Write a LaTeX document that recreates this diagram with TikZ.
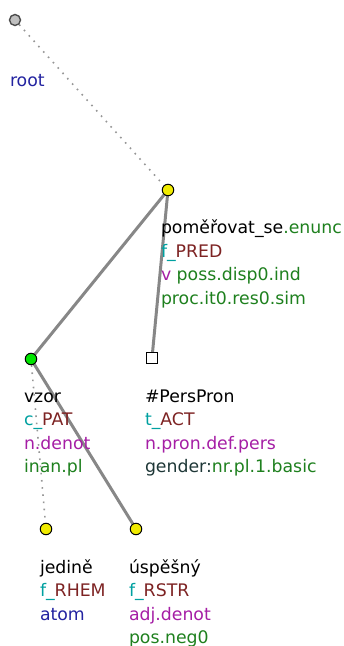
\documentclass[tikz,border=0pt]{standalone}
\usepackage{fontspec}
\setmainfont{DejaVu Sans}
\usetikzlibrary{backgrounds}
\definecolor{cteal}{RGB}{0,160,160}
\definecolor{cbrown}{RGB}{125,35,35}
\definecolor{cpurple}{RGB}{165,30,165}
\definecolor{cgreen}{RGB}{30,128,30}
\definecolor{cblue}{RGB}{35,35,160}
\definecolor{cslate}{RGB}{30,55,55}
\definecolor{cedge}{RGB}{135,135,135}
\definecolor{cdot}{RGB}{150,150,150}
\definecolor{cyel}{RGB}{240,235,0}
\begin{document}
\begin{tikzpicture}[x=1pt,y=-1pt,
  every node/.style={font=\fontsize{17.3}{20}\selectfont},
  lab/.style={anchor=base west,inner sep=0pt,outer sep=0pt},
  tnode/.style={circle,draw=black,line width=1pt,fill=cyel,minimum size=11.5pt,inner sep=0pt},
  rootnode/.style={circle,draw=black!70,line width=1.4pt,fill=black!25,minimum size=11pt,inner sep=0pt},
  patnode/.style={tnode,fill=green!90!black},
  sqnode/.style={rectangle,draw=black,line width=1pt,fill=white,minimum size=10.5pt,inner sep=0pt},
  thickedge/.style={draw=cedge,line width=3pt},
  dotedge/.style={draw=cdot,line width=1.6pt,dash pattern=on 1.6pt off 5.6pt}]
\useasboundingbox (0,0) rectangle (344,646);
% nodes
\node[rootnode] (root) at (15,20) {};
\node[tnode] (pred) at (168,190) {};
\node[patnode] (pat) at (31,359) {};
\node[sqnode] (act) at (152,358) {};
\node[tnode] (rhem) at (46,529) {};
\node[tnode] (rstr) at (136,529) {};
% edges
\begin{scope}[on background layer]
\draw[dotedge] (root) -- (pred);
\draw[thickedge] (pred.center) -- (pat.center);
\draw[thickedge] (pred.center) -- (act.center);
\draw[dotedge] (pat) -- (rhem);
\draw[thickedge] (pat.center) -- (rstr.center);
\end{scope}
% labels
\node[lab,text=cblue] (rootl) at (10,86) {root};

\node[lab] (pred1) at (161,233.5) {poměřovat\_se\textcolor{cgreen}{.enunc}};
\node[lab] (pred2) at (161,257) {\textcolor{cteal}{f\_}\textcolor{cbrown}{PRED}};
\node[lab] (pred3) at (161,280.5) {\textcolor{cpurple}{v} \textcolor{cgreen}{poss.disp0.ind}};
\node[lab,text=cgreen] (pred4) at (161,304) {proc.it0.res0.sim};

\node[lab] (pat1) at (24,402) {vzor};
\node[lab] (pat2) at (24,425.5) {\textcolor{cteal}{c\_}\textcolor{cbrown}{PAT}};
\node[lab,text=cpurple] (pat3) at (24,449) {n.denot};
\node[lab,text=cgreen] (pat4) at (24,472.5) {inan.pl};

\node[lab] (act1) at (145,402) {\#PersPron};
\node[lab] (act2) at (145,425.5) {\textcolor{cteal}{t\_}\textcolor{cbrown}{ACT}};
\node[lab,text=cpurple] (act3) at (145,449) {n.pron.def.pers};
\node[lab] (act4) at (145,472.5) {\textcolor{cslate}{gender:}\textcolor{cgreen}{nr.pl.1.basic}};

\node[lab] (rhem1) at (40,573) {jedině};
\node[lab] (rhem2) at (40,596.5) {\textcolor{cteal}{f\_}\textcolor{cbrown}{RHEM}};
\node[lab,text=cblue] (rhem3) at (40,620) {atom};

\node[lab] (rstr1) at (129,573) {úspěšný};
\node[lab] (rstr2) at (129,596.5) {\textcolor{cteal}{f\_}\textcolor{cbrown}{RSTR}};
\node[lab,text=cpurple] (rstr3) at (129,620) {adj.denot};
\node[lab,text=cgreen] (rstr4) at (129,643) {pos.neg0};
\end{tikzpicture}
\end{document}
